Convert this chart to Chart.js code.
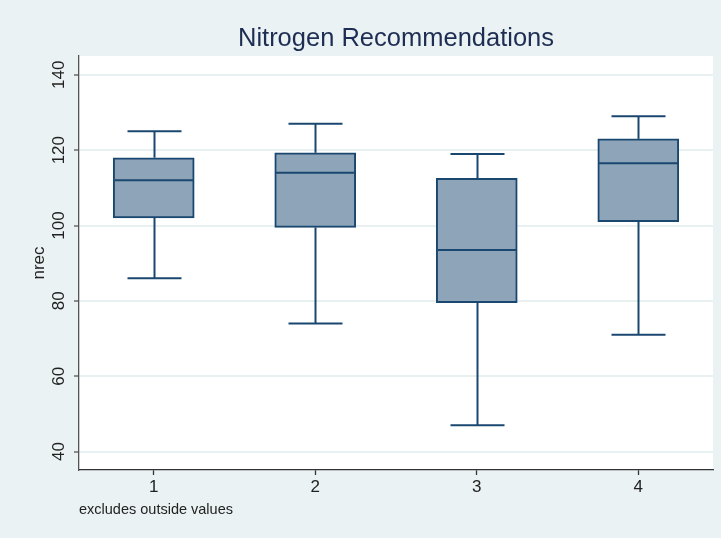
<!DOCTYPE html>
<html>
<head>
<meta charset="utf-8">
<script src="https://cdn.jsdelivr.net/npm/chart.js@4.4.1/dist/chart.umd.min.js"></script>
<style>
  html, body { margin: 0; padding: 0; background: #eaf2f3; }
  canvas { display: block; }
</style>
</head>
<body>
<canvas id="chart" width="721" height="538"></canvas>
<script>
const groups = [1, 2, 3, 4];
const whiskerLow = [86, 74, 47, 71];
const q1 = [102, 99.5, 79.5, 101];
const median = [112, 114, 93.5, 116.5];
const q3 = [118, 119.3, 112.5, 123];
const whiskerHigh = [125, 127, 119, 129];
const yTicks = [40, 60, 80, 100, 120, 140];

const NAVY = '#1a476f';
const FILL = '#8ea4b8';
const FONT = "'Liberation Sans', Arial, Helvetica, sans-serif";

const plotBg = {
  id: 'plotBg',
  beforeDraw(chart) {
    const { ctx, chartArea: a } = chart;
    ctx.save();
    ctx.fillStyle = '#ffffff';
    ctx.fillRect(a.left, a.top, a.right - a.left, a.bottom - a.top);
    ctx.restore();
  },
};

// whiskers, caps and median line, placed with the chart's own scales
const whiskers = {
  id: 'whiskers',
  afterDatasetsDraw(chart) {
    const { ctx, scales: { x, y } } = chart;
    const capHalf = 27;
    const boxHalf = 40.5;
    ctx.save();
    ctx.strokeStyle = NAVY;
    ctx.lineWidth = 2;
    groups.forEach((g, i) => {
      const cx = Math.round(x.getPixelForValue(g)) + 0.5;
      const line = (x0, y0, x1, y1) => {
        ctx.beginPath();
        ctx.moveTo(x0, y0);
        ctx.lineTo(x1, y1);
        ctx.stroke();
      };
      line(cx, y.getPixelForValue(q3[i]), cx, y.getPixelForValue(whiskerHigh[i]));
      line(cx, y.getPixelForValue(q1[i]), cx, y.getPixelForValue(whiskerLow[i]));
      line(cx - capHalf, y.getPixelForValue(whiskerHigh[i]), cx + capHalf, y.getPixelForValue(whiskerHigh[i]));
      line(cx - capHalf, y.getPixelForValue(whiskerLow[i]), cx + capHalf, y.getPixelForValue(whiskerLow[i]));
      line(cx - boxHalf + 1, y.getPixelForValue(median[i]), cx + boxHalf - 1, y.getPixelForValue(median[i]));
    });
    ctx.restore();
  },
};

new Chart(document.getElementById('chart'), {
  type: 'bar',
  data: {
    datasets: [{
      data: groups.map((g, i) => ({ x: g, y: [q1[i], q3[i]] })),
      backgroundColor: FILL,
      borderColor: NAVY,
      borderWidth: 2,
      borderSkipped: false,
      barThickness: 81,
    }],
  },
  options: {
    responsive: false,
    animation: false,
    devicePixelRatio: 1,
    layout: { padding: { left: 0, right: 8, top: 0, bottom: 0 } },
    plugins: {
      legend: { display: false },
      tooltip: { enabled: false },
      title: {
        display: true,
        fullSize: false,
        text: 'Nitrogen Recommendations',
        color: '#1e2d53',
        font: { family: FONT, size: 25.5, weight: 'normal' },
        padding: { top: 23.5, bottom: 1.9 },
      },
      subtitle: {
        display: true,
        fullSize: false,
        position: 'bottom',
        align: 'start',
        text: 'excludes outside values',
        color: '#222',
        font: { family: FONT, size: 14.5, weight: 'normal' },
        padding: { top: 1.3, bottom: 19.3 },
      },
    },
    scales: {
      x: {
        type: 'linear',
        offset: false,
        min: 0.5374,
        max: 4.4626,
        afterBuildTicks: (s) => { s.ticks = groups.map((v) => ({ value: v })); },
        afterFit: (s) => { s.height = 30; },
        ticks: {
          color: '#222',
          font: { family: FONT, size: 17 },
          padding: 2,
          callback: (v) => String(v),
        },
        grid: { offset: false, drawOnChartArea: false, tickLength: 5, tickColor: '#333', tickWidth: 1.3 },
        border: { color: '#333', width: 1.3 },
      },
      y: {
        min: 35.1,
        max: 145,
        afterBuildTicks: (s) => { s.ticks = yTicks.map((v) => ({ value: v })); },
        afterFit: (s) => { s.width = 79; },
        ticks: {
          color: '#222',
          font: { family: FONT, size: 17 },
          minRotation: 90,
          maxRotation: 90,
          crossAlign: 'center',
          padding: 1,
        },
        grid: { color: '#e9f0f2', lineWidth: 2, tickLength: 5, tickColor: '#555', tickWidth: 1.3 },
        border: { color: '#555', width: 1.3 },
        title: {
          display: true,
          text: 'nrec',
          color: '#222',
          font: { family: FONT, size: 17 },
          padding: { top: 28.8, bottom: 0 },
        },
      },
    },
  },
  plugins: [plotBg, whiskers],
});
</script>
</body>
</html>
